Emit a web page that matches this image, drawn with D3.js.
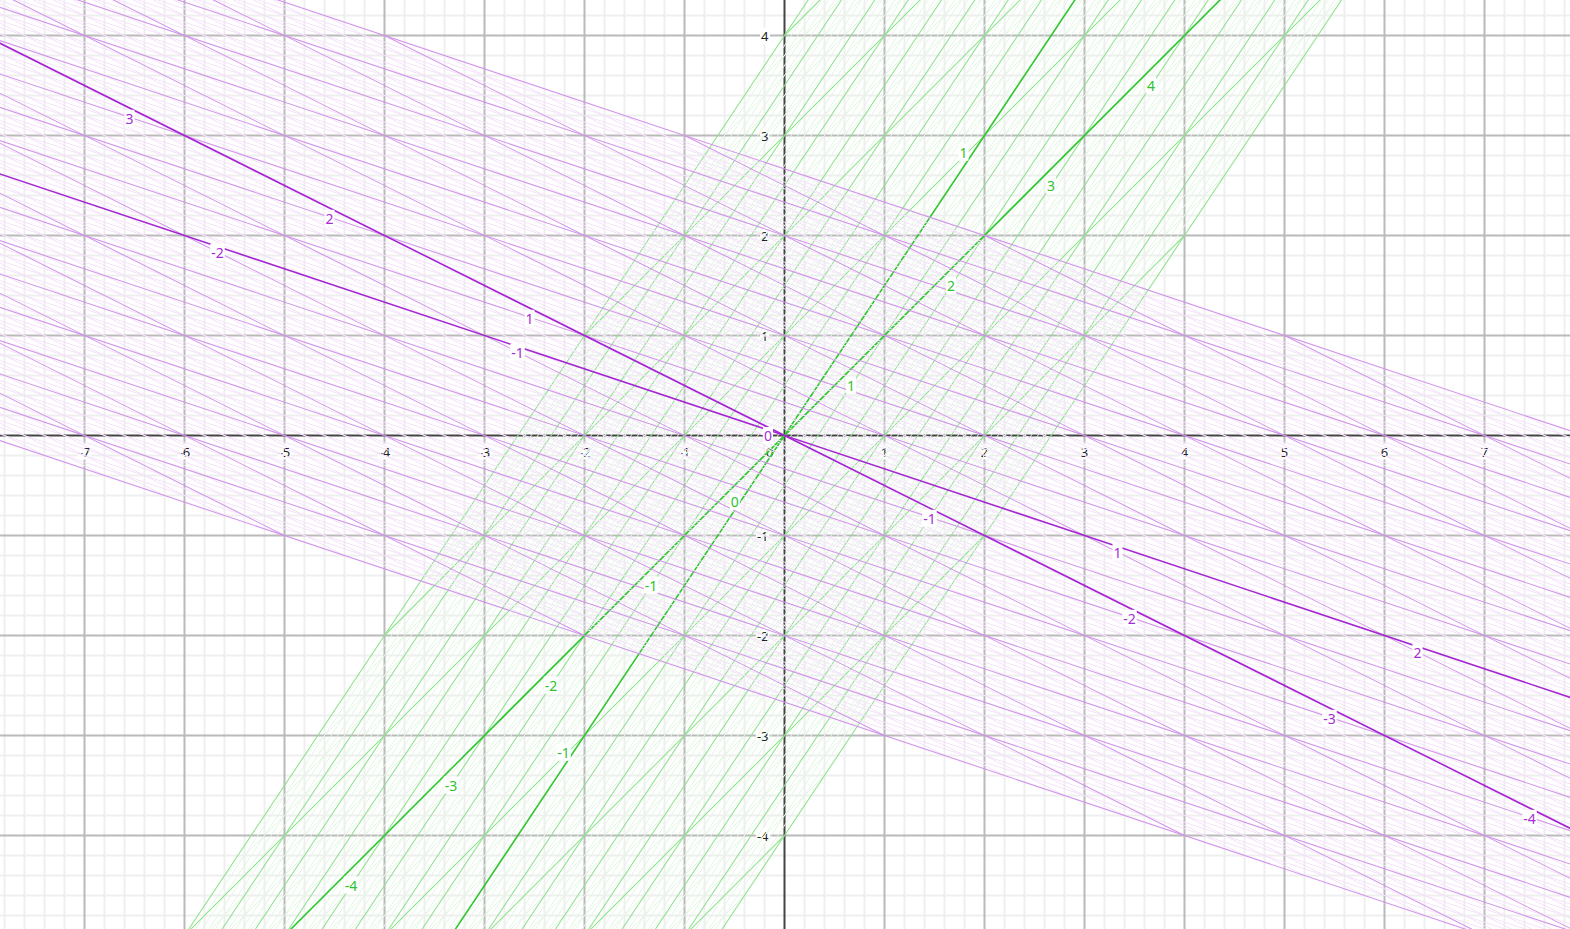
<!DOCTYPE html>
<html><head><meta charset="utf-8">
<script src="https://cdn.jsdelivr.net/npm/d3@7"></script>
<style>html,body{margin:0;padding:0;background:#fff;overflow:hidden}</style>
</head><body><svg id="chart" width="1570" height="929"></svg>
<script>
// ---- data ----
const xDomain = [-7.845, 7.855];
const yDomain = [4.355, -4.935];
const xTicks = [-7, -6, -5, -4, -3, -2, -1, 1, 2, 3, 4, 5, 6, 7];
const yTicks = [4, 3, 2, 1, -1, -2, -3, -4];
const gridRange = [-8, 8];
const purpleBasis = [[-2, 1], [3, -1]];
const greenBasis = [[1, 1], [2, 3]];
const purpleLabelsA = [-8, -7, -6, -5, -4, -3, -2, -1, 1, 2, 3, 4, 5, 6, 7, 8];
const purpleLabelsB = [-8, -7, -6, -5, -4, -3, -2, -1, 1, 2, 3, 4, 5, 6, 7, 8];
const greenLabelsA = [-8, -7, -6, -5, -4, -3, -2, -1, 1, 2, 3, 4, 5, 6, 7, 8];
const greenLabelsB = [-8, -7, -6, -5, -4, -3, -2, -1, 1, 2, 3, 4, 5, 6, 7, 8];

const W = 1570, H = 929;
const svg = d3.select('#chart');
const x = d3.scaleLinear().domain(xDomain).range([0, W]);
const y = d3.scaleLinear().domain(yDomain).range([0, H]);

const font = '"Noto Sans", "Open Sans", sans-serif';

// background grid
const bg = svg.append('g');
const minorX = d3.range(-40, 41).map(i => i / 5).filter(v => Math.abs(v - Math.round(v)) > 1e-9);
const minorY = d3.range(-25, 23).map(i => i / 5).filter(v => Math.abs(v - Math.round(v)) > 1e-9);
const majorX = d3.range(-8, 9).filter(v => v !== 0);
const majorY = d3.range(-5, 5).filter(v => v !== 0);
bg.selectAll('.mx').data(minorX).join('line').attr('x1', d => x(d)).attr('x2', d => x(d)).attr('y1', 0).attr('y2', H)
  .attr('stroke', '#efefef').attr('stroke-width', 2);
bg.selectAll('.my').data(minorY).join('line').attr('y1', d => y(d)).attr('y2', d => y(d)).attr('x1', 0).attr('x2', W)
  .attr('stroke', '#efefef').attr('stroke-width', 2);
bg.selectAll('.Mx').data(majorX).join('line').attr('x1', d => x(d)).attr('x2', d => x(d)).attr('y1', 0).attr('y2', H)
  .attr('stroke', '#bababa').attr('stroke-width', 2);
bg.selectAll('.My').data(majorY).join('line').attr('y1', d => y(d)).attr('y2', d => y(d)).attr('x1', 0).attr('x2', W)
  .attr('stroke', '#bababa').attr('stroke-width', 2);
// axes
bg.append('line').attr('x1', 0).attr('x2', W).attr('y1', y(0)).attr('y2', y(0)).attr('stroke', '#444').attr('stroke-width', 2);
bg.append('line').attr('x1', x(0)).attr('x2', x(0)).attr('y1', 0).attr('y2', H).attr('stroke', '#444').attr('stroke-width', 2);

function labelWithBg(g, tx, ty, text, color, size, anchor) {
  const grp = g.append('g');
  const t = grp.append('text').attr('x', tx).attr('y', ty).text(text)
    .attr('fill', color).attr('font-size', size).attr('font-family', font)
    .attr('text-anchor', anchor).attr('dominant-baseline', 'central');
  const b = t.node().getBBox();
  grp.insert('rect', 'text').attr('x', b.x - 1).attr('y', b.y + 1).attr('width', b.width + 2).attr('height', b.height - 2)
    .attr('fill', '#fff');
}

// tick labels
const tl = svg.append('g');
xTicks.forEach(v => labelWithBg(tl, x(v), y(0) + 16, String(v), '#222', 13, 'middle'));
yTicks.forEach(v => labelWithBg(tl, x(0) - 16, y(v), String(v), '#222', 13, 'end'));
labelWithBg(tl, x(0) - 11, y(0) + 16, '0', '#222', 13, 'end');

// oblique grids
const pt = (B, a, b) => [a * B[0][0] + b * B[1][0], a * B[0][1] + b * B[1][1]];
const minorVals = d3.range(-40, 41).map(i => i / 5).filter(v => Math.abs(v - Math.round(v)) > 1e-9);
const majorVals = d3.range(gridRange[0], gridRange[1] + 1).filter(v => v !== 0);

function drawGrid(B, faint, medium, dark) {
  const g = svg.append('g');
  const lines = (vals, color, w) => {
    vals.forEach(v => {
      const p1 = pt(B, v, gridRange[0]), p2 = pt(B, v, gridRange[1]);
      const q1 = pt(B, gridRange[0], v), q2 = pt(B, gridRange[1], v);
      g.append('line').attr('x1', x(p1[0])).attr('y1', y(p1[1])).attr('x2', x(p2[0])).attr('y2', y(p2[1]))
        .attr('stroke', color).attr('stroke-width', w);
      g.append('line').attr('x1', x(q1[0])).attr('y1', y(q1[1])).attr('x2', x(q2[0])).attr('y2', y(q2[1]))
        .attr('stroke', color).attr('stroke-width', w);
    });
  };
  lines(minorVals, faint, 1);
  lines(majorVals, medium, 1.1);
  lines([0], dark, 1.6);
}

drawGrid(greenBasis, '#e2f7e2', '#8fe38f', '#2dc82d');
drawGrid(purpleBasis, '#f4e2fb', '#d294eb', '#a626d4');

// axis labels
const lg = svg.append('g');
const purpleC = '#a62bd2', greenC = '#2ec22e';
function axisLabels(vals, vec, off, color) {
  vals.forEach(k => {
    const px = k * vec[0] + off[0], py = k * vec[1] + off[1];
    if (px < xDomain[0] + 0.05 || px > xDomain[1] - 0.05 || py > yDomain[0] - 0.05 || py < yDomain[1] + 0.05) return;
    labelWithBg(lg, x(px), y(py), String(k), color, 14, 'middle');
  });
}
axisLabels(purpleLabelsA, purpleBasis[0], [-0.55, 0.172], purpleC);
axisLabels(purpleLabelsB, purpleBasis[1], [0.33, -0.165], purpleC);
axisLabels(greenLabelsA, greenBasis[0], [-0.335, -0.495], greenC);
axisLabels(greenLabelsB, greenBasis[1], [-0.21, -0.168], greenC);
labelWithBg(lg, x(-0.165), y(0), '0', purpleC, 14, 'middle');
labelWithBg(lg, x(-0.498), y(-0.662), '0', greenC, 14, 'middle');
</script></body></html>
